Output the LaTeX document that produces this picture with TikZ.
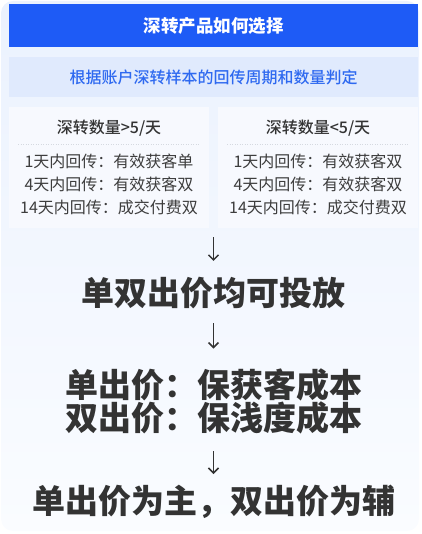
\documentclass[tikz,border=0pt]{standalone}
\usepackage{fontspec}
\setmainfont{Noto Sans CJK SC}
\newfontfamily\moyen{Noto Sans CJK SC Medium}
\usetikzlibrary{arrows.meta}
\definecolor{bleu}{HTML}{1E5BF6}
\definecolor{bleuclair}{HTML}{E0EAFD}
\definecolor{bleutexte}{HTML}{2E69F0}
\definecolor{fondhaut}{HTML}{EBF2FE}
\definecolor{fondbas}{HTML}{FAFCFF}
\definecolor{boitefond}{HTML}{F7F9FE}
\definecolor{texte}{HTML}{333333}
\definecolor{pointgris}{HTML}{D5D9E0}

\begin{document}
\begin{tikzpicture}[x=1pt, y=-1pt,
    bandeau/.style={fill=bleu, text=white, minimum width=409pt, minimum height=43pt,
      font=\bfseries\fontsize{17.5}{20}\selectfont},
    critere/.style={fill=bleuclair, text=bleutexte, minimum width=409pt, minimum height=40pt,
      font=\moyen\fontsize{16}{19}\selectfont},
    boite/.style={fill=boitefond, minimum width=200pt, minimum height=121pt},
    soustitre/.style={text=texte, font=\moyen\fontsize{16}{19}\selectfont},
    lignes/.style={text=texte!95, align=center, font=\fontsize{16}{23}\selectfont},
    gros/.style={text=texte, inner sep=0pt, align=center, font=\bfseries\fontsize{33}{33}\selectfont},
    fleche/.style={draw=texte, line width=1.5pt, -{Straight Barb[length=5pt,width=10pt]}}]
    \useasboundingbox (0,0) rectangle (421,534);

    % Fond
    \shade[top color=fondhaut, bottom color=fondbas, rounded corners=12pt] (1,1) rectangle (419,531);

    % Titre et critere
    \node[bandeau] (titre) at (213.5,25.5) {深转产品如何选择};
    \node[critere] (critere) at (213.5,77) {根据账户深转样本的回传周期和数量判定};

    % Deux cas
    \node[boite] (gauche) at (109,167.5) {};
    \node[boite] (droite) at (318,167.5) {};
    \node[soustitre] (gtitre) at (109,128) {深转数量>5/天};
    \node[soustitre] (dtitre) at (318,128) {深转数量<5/天};
    \draw[pointgris, line width=0.8pt, dash pattern=on 1pt off 1.5pt] (18,144) -- (200,144);
    \draw[pointgris, line width=0.8pt, dash pattern=on 1pt off 1.5pt] (227,144) -- (409,144);
    \node[lignes] (glignes) at (109,184) {1天内回传：有效获客单\\4天内回传：有效获客双\\14天内回传：成交付费双};
    \node[lignes] (dlignes) at (318,184) {1天内回传：有效获客双\\4天内回传：有效获客双\\14天内回传：成交付费双};

    % Conclusions
    \node[gros] (deux) at (213.5,293) {单双出价均可投放};
    \node[gros] (regle) at (213.5,401.5) {单出价：保获客成本\\双出价：保浅度成本};
    \node[gros] (final) at (213.5,502) {单出价为主，双出价为辅};

    % Fleches
    \draw[fleche, shorten <=9pt, shorten >=16pt] (gauche.south -| deux.north) -- (deux.north);
    \draw[fleche, shorten <=14pt, shorten >=20pt] (deux.south) -- (regle.north);
    \draw[fleche, shorten <=17pt, shorten >=11pt] (regle.south) -- (final.north);
\end{tikzpicture}
\end{document}
